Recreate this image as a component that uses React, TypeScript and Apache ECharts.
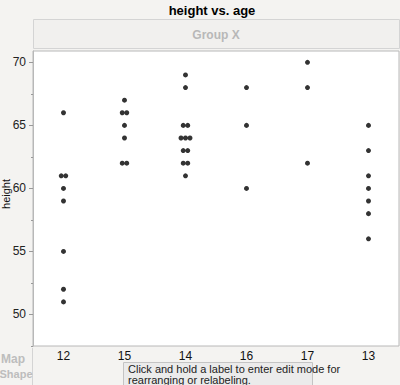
import React, { useEffect, useRef } from "react";
import * as echarts from "echarts";

const categories = ["12", "15", "14", "16", "17", "13"];
const heights12 = [66, 61, 61, 60, 59, 55, 52, 51];
const heights15 = [67, 66, 66, 65, 64, 62, 62];
const heights14 = [69, 68, 65, 65, 64, 64, 64, 63, 63, 62, 62, 61];
const heights16 = [68, 65, 60];
const heights17 = [70, 68, 62];
const heights13 = [65, 63, 61, 60, 59, 58, 56];
const groups = [heights12, heights15, heights14, heights16, heights17, heights13];
const majorTicks = [50, 55, 60, 65, 70];
const minorTicks = [47.5, 52.5, 57.5, 62.5, 67.5];

export default function App() {
  const ref = useRef<HTMLDivElement>(null);
  useEffect(() => {
    if (!ref.current) return;
    const chart = echarts.init(ref.current, null, { renderer: "svg" });
    const data: any[] = [];
    groups.forEach((vals, ci) => {
      const counts: Record<number, number> = {};
      vals.forEach((v) => (counts[v] = (counts[v] || 0) + 1));
      const seen: Record<number, number> = {};
      vals.forEach((v) => {
        const n = counts[v];
        const i = seen[v] || 0;
        seen[v] = i + 1;
        const off = (i - (n - 1) / 2) * 4.5;
        data.push({ value: [categories[ci], v], symbolOffset: [off, 0] });
      });
    });
    chart.setOption({
      animation: false,
      backgroundColor: "#f4f3f1",
      textStyle: { fontFamily: "Liberation Sans, Arial, sans-serif" },
      grid: {
        left: 33,
        top: 51,
        width: 366,
        height: 295,
        containLabel: false,
        outerBoundsMode: "none",
        show: true,
        backgroundColor: "#ffffff",
        borderColor: "#b8b8b8",
        borderWidth: 1,
      },
      xAxis: {
        type: "category",
        data: categories,
        boundaryGap: true,
        axisLine: { show: false },
        axisTick: { show: false },
        splitLine: { show: false },
        axisLabel: { color: "#111", fontSize: 12, margin: 4 },
      },
      yAxis: [
        {
          type: "value",
          min: 47.5,
          max: 70.9,
          axisLine: { show: true, lineStyle: { color: "#b8b8b8" } },
          axisTick: {
            show: true,
            customValues: majorTicks,
            length: 4,
            lineStyle: { color: "#999" },
          },
          axisLabel: {
            customValues: majorTicks,
            color: "#222",
            fontSize: 12,
            margin: 7,
          },
          splitLine: { show: false },
        },
        {
          type: "value",
          min: 47.5,
          max: 70.9,
          position: "left",
          axisLine: { show: false },
          axisTick: {
            show: true,
            customValues: minorTicks,
            length: 2,
            lineStyle: { color: "#999" },
          },
          axisLabel: { show: false },
          splitLine: { show: false },
        },
      ],
      series: [
        {
          type: "scatter",
          yAxisIndex: 0,
          symbolSize: 5,
          itemStyle: { color: "#000" },
          data,
        },
      ],
      graphic: [
        {
          type: "text",
          x: 212,
          y: 10,
          style: {
            text: "height vs. age",
            fill: "#000",
            font: "bold 13px Liberation Sans, Arial, sans-serif",
            align: "center",
            verticalAlign: "middle",
          },
        },
        {
          type: "text",
          x: 6,
          y: 194,
          rotation: Math.PI / 2,
          style: {
            text: "height",
            fill: "#111",
            font: "11px Liberation Sans, Arial, sans-serif",
            align: "center",
            verticalAlign: "middle",
          },
        },
        {
          type: "rect",
          shape: { x: 33.5, y: 19.5, width: 366, height: 29 },
          style: { fill: "#f1f0ee", stroke: "#d4d4d4", lineWidth: 1 },
        },
        {
          type: "text",
          x: 216,
          y: 35,
          style: {
            text: "Group X",
            fill: "#b8b8b8",
            font: "bold 12px Liberation Sans, Arial, sans-serif",
            align: "center",
            verticalAlign: "middle",
          },
        },
        {
          type: "line",
          shape: { x1: 32.5, y1: 348, x2: 32.5, y2: 385 },
          style: { stroke: "#d4d4d4", lineWidth: 1 },
        },
        {
          type: "text",
          x: 13,
          y: 359,
          style: {
            text: "Map",
            fill: "#bdbdbd",
            font: "bold 12px Liberation Sans, Arial, sans-serif",
            align: "center",
            verticalAlign: "middle",
          },
        },
        {
          type: "text",
          x: 16,
          y: 374,
          style: {
            text: "Shape",
            fill: "#bdbdbd",
            font: "bold 11px Liberation Sans, Arial, sans-serif",
            align: "center",
            verticalAlign: "middle",
          },
        },
        {
          type: "rect",
          shape: { x: 123.5, y: 362.5, width: 189, height: 30 },
          style: { fill: "#ebebeb", stroke: "#c4c4c4", lineWidth: 1 },
        },
        {
          type: "text",
          x: 128,
          y: 368.5,
          style: {
            text: "Click and hold a label to enter edit mode for",
            fill: "#222",
            font: "11px Liberation Sans, Arial, sans-serif",
            align: "left",
            verticalAlign: "middle",
          },
        },
        {
          type: "text",
          x: 128,
          y: 379.5,
          style: {
            text: "rearranging or relabeling.",
            fill: "#222",
            font: "11px Liberation Sans, Arial, sans-serif",
            align: "left",
            verticalAlign: "middle",
          },
        },
      ],
    });
    return () => chart.dispose();
  }, []);
  return (
    <div
      ref={ref}
      style={{ position: "fixed", left: 0, top: 0, width: 400, height: 385 }}
    />
  );
}
